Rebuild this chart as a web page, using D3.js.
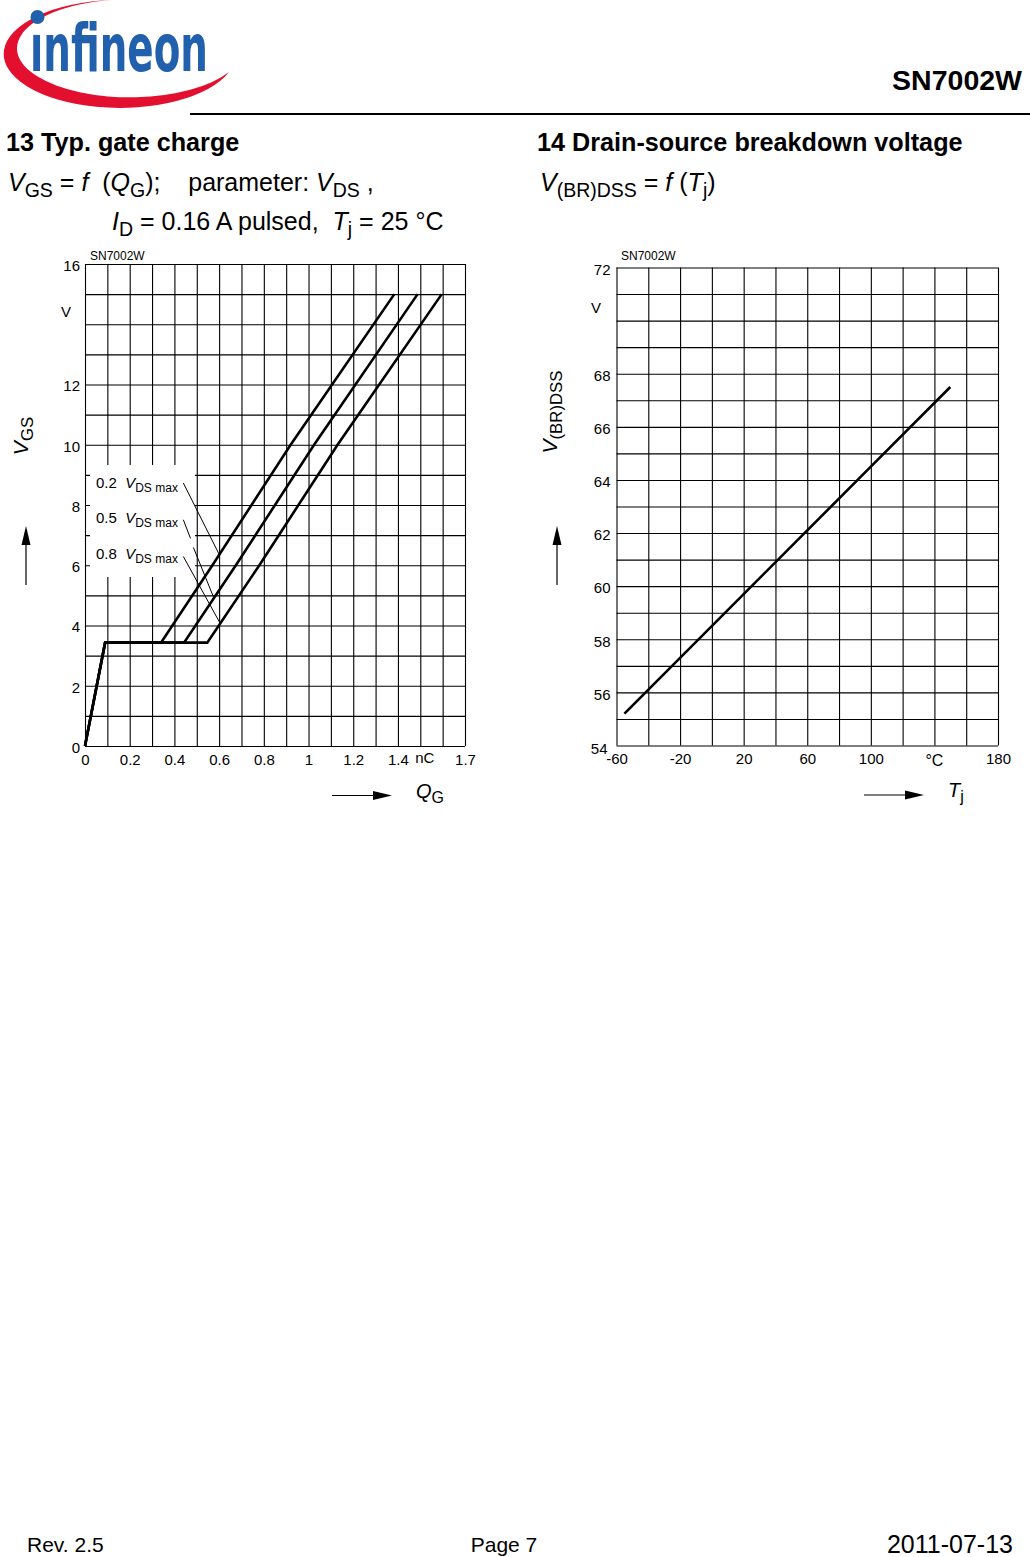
<!DOCTYPE html>
<html><head><meta charset="utf-8">
<script src="https://cdn.jsdelivr.net/npm/d3@7"></script>
<style>
body{margin:0;background:#fff}
svg text{font-family:"Liberation Sans",Arial,Helvetica,sans-serif;fill:#000;white-space:pre}
</style></head>
<body><svg id="page" width="1030" height="1557"></svg>
<script>
// ---------------- DATA ----------------
// Chart 13: gate charge, VGS = f(QG)
const gcSeriesNames = ["0.2", "0.5", "0.8"];
const gcCurve02 = [[0,0],[0.09,3.43],[0.34,3.43],[0.57,6],[0.92,10],[1.384,15]];
const gcCurve05 = [[0,0],[0.09,3.43],[0.443,3.43],[0.675,6],[1.025,10],[1.488,15]];
const gcCurve08 = [[0,0],[0.09,3.43],[0.547,3.43],[0.78,6],[1.13,10],[1.596,15]];
const gcXTickValues = [0,0.2,0.4,0.6,0.8,1,1.2,1.4,1.7];
const gcXTickLabels = ["0","0.2","0.4","0.6","0.8","1","1.2","1.4","1.7"];
const gcYTickValues = [0,2,4,6,8,10,12,16];
// leader lines: [from, to] in data units (QG, VGS)
const gcLeader02 = [[[0.44,8.73],[0.601,6.35]]];
const gcLeader05 = [[[0.44,7.51],[0.472,6.89]],[[0.485,6.59],[0.574,4.96]]];
const gcLeader08 = [[[0.44,6.29],[0.604,4.08]]];

// Chart 14: breakdown voltage V(BR)DSS = f(Tj)
const bvTemps = [-55,-20,20,60,100,150];
const bvVolts = [55.2,57.3,59.7,62.1,64.5,67.5];
const bvXTickValues = [-60,-20,20,60,100,180];
const bvYTickValues = [54,56,58,60,62,64,66,68,72];

// ---------------- HELPERS ----------------
const svg = d3.select("#page");
function rich(sel, x, y, parts, size, opts) {
  opts = opts || {};
  const t = sel.append("text").attr("x", x).attr("y", y).attr("font-size", size)
    .attr("text-anchor", opts.anchor || "start");
  if (opts.weight) t.attr("font-weight", opts.weight);
  if (opts.transform) t.attr("transform", opts.transform);
  let cur = 0;
  parts.forEach(p => {
    const s = t.append("tspan").text(p.t);
    const shift = p.sub ? size * (p.shift || 0.25) : 0;
    s.attr("dy", shift - cur); cur = shift;
    if (p.sub) s.attr("font-size", size * (p.scale || 0.78));
    if (p.i) s.attr("font-style", "italic");
  });
  return t;
}
function arrow(sel, x1, y1, x2, y2) {
  const dx = x2 - x1, dy = y2 - y1, L = Math.hypot(dx, dy), ux = dx / L, uy = dy / L;
  const hl = 19, hw = 4.5;
  const bx = x2 - ux * hl, by = y2 - uy * hl;
  sel.append("line").attr("x1", x1).attr("y1", y1).attr("x2", bx).attr("y2", by)
    .attr("stroke", "#000").attr("stroke-width", 1.2);
  sel.append("path").attr("d", `M${x2},${y2}L${bx - uy * hw},${by + ux * hw}L${bx + uy * hw},${by - ux * hw}Z`)
    .attr("fill", "#000");
}

// ---------------- HEADER ----------------
const logo = svg.append("g");
logo.append("path")
  .attr("d", "M229,72 A116,54 0 1 1 112,0 A113,49 0 1 0 229,72 Z")
  .attr("fill", "#e2102e");
logo.append("text").attr("x", 30).attr("y", 71).attr("font-size", 66)
  .attr("font-weight", "bold")
  .attr("textLength", 178).attr("lengthAdjust", "spacingAndGlyphs")
  .style("font-family", "'Liberation Sans Narrow','DejaVu Sans Condensed','Liberation Sans',sans-serif")
  .style("fill", "#2160ad")
  .text("\u0131nfineon");
logo.append("circle").attr("cx", 37.5).attr("cy", 17).attr("r", 7).attr("fill", "#2160ad");

svg.append("text").attr("x", 1022).attr("y", 90).attr("font-size", 28.5).attr("font-weight", "bold")
  .attr("text-anchor", "end").text("SN7002W");
svg.append("line").attr("x1", 190).attr("x2", 1030).attr("y1", 114).attr("y2", 114)
  .attr("stroke", "#000").attr("stroke-width", 2);

// Titles
svg.append("text").attr("x", 6).attr("y", 151).attr("font-size", 25.2).attr("font-weight", "bold")
  .text("13 Typ. gate charge");
svg.append("text").attr("x", 537).attr("y", 151).attr("font-size", 25.2).attr("font-weight", "bold")
  .text("14 Drain-source breakdown voltage");
rich(svg, 8, 191, [{t:"V",i:true},{t:"GS",sub:true},{t:" = "},{t:"f",i:true},{t:"  ("},{t:"Q",i:true},{t:"G",sub:true},{t:");    parameter: "},{t:"V",i:true},{t:"DS",sub:true},{t:" ,"}], 25);
rich(svg, 112, 230, [{t:"I",i:true},{t:"D",sub:true},{t:" = 0.16 A pulsed,  "},{t:"T",i:true},{t:"j",sub:true},{t:" = 25 °C"}], 25);
rich(svg, 540, 191, [{t:"V",i:true},{t:"(BR)DSS",sub:true},{t:" = "},{t:"f",i:true},{t:" ("},{t:"T",i:true},{t:"j",sub:true},{t:")"}], 25);

// ---------------- CHART 13 ----------------
const c1 = svg.append("g");
const x1 = d3.scaleLinear().domain([0, 1.7]).range([85, 465]);
const y1 = d3.scaleLinear().domain([0, 16]).range([746, 264]);

c1.append("g").attr("transform", `translate(0,${y1(0)})`)
  .call(d3.axisBottom(x1).tickValues(d3.range(0, 18).map(d => d / 10)).tickSize(-(y1(0) - y1(16))).tickFormat(""))
  .call(g => g.select(".domain").remove())
  .call(g => g.selectAll("line").attr("stroke", "#000").attr("stroke-width", 1.1));
c1.append("g").attr("transform", `translate(${x1(0)},0)`)
  .call(d3.axisLeft(y1).tickValues(d3.range(0, 17)).tickSize(-(x1(1.7) - x1(0))).tickFormat(""))
  .call(g => g.select(".domain").remove())
  .call(g => g.selectAll("line").attr("stroke", "#000").attr("stroke-width", 1.1));

c1.append("g").attr("transform", `translate(0,${y1(0)})`)
  .call(d3.axisBottom(x1).tickValues(gcXTickValues).tickSize(0).tickPadding(8)
    .tickFormat((d, i) => gcXTickLabels[i]))
  .call(g => g.select(".domain").remove())
  .call(g => g.selectAll("text").attr("font-size", 15).attr("font-family", null));
c1.append("g").attr("transform", `translate(${x1(0)},0)`)
  .call(d3.axisLeft(y1).tickValues(gcYTickValues).tickSize(0).tickPadding(5))
  .call(g => g.select(".domain").remove())
  .call(g => g.selectAll("text").attr("font-size", 15).attr("font-family", null).attr("dy", "0.42em"));
c1.append("text").attr("x", x1(1.52)).attr("y", 763).attr("font-size", 15).attr("text-anchor", "middle").text("nC");
c1.append("text").attr("x", 66).attr("y", y1(14.4) + 5).attr("font-size", 15).attr("text-anchor", "middle").text("V");
c1.append("text").attr("x", 90).attr("y", 260).attr("font-size", 12).text("SN7002W");

// legend box (white, covers grid)
c1.append("rect").attr("x", 90).attr("y", 465).attr("width", 105).attr("height", 112).attr("fill", "#fff");

const line1 = d3.line().x(d => x1(d[0])).y(d => y1(d[1]));
[gcCurve02, gcCurve05, gcCurve08].forEach(c => {
  c1.append("path").attr("d", line1(c)).attr("fill", "none").attr("stroke", "#000")
    .attr("stroke-width", 2.6).attr("stroke-linejoin", "miter");
});
[gcLeader02, gcLeader05, gcLeader08].forEach(segs => segs.forEach(s => {
  c1.append("line").attr("x1", x1(s[0][0])).attr("y1", y1(s[0][1]))
    .attr("x2", x1(s[1][0])).attr("y2", y1(s[1][1])).attr("stroke", "#000").attr("stroke-width", 1);
}));
const legY = [488, 523, 559];
gcSeriesNames.forEach((n, i) => {
  rich(c1, 96, legY[i], [{t: n + "  "}, {t:"V",i:true}, {t:"DS max",sub:true,scale:0.8}], 15);
});

rich(c1, 0, 0, [{t:"V",i:true},{t:"GS",sub:true,scale:0.8}], 21, {anchor:"middle", transform:"translate(28,436) rotate(-90)"});
arrow(c1, 26, 585, 26, 526);
arrow(c1, 332, 795.5, 392, 795.5);
rich(c1, 416, 798, [{t:"Q",i:true},{t:"G",sub:true,scale:0.8}], 20);

// ---------------- CHART 14 ----------------
const c2 = svg.append("g");
const x2 = d3.scaleLinear().domain([-60, 180]).range([616.5, 998]);
const y2 = d3.scaleLinear().domain([54, 72]).range([745.5, 267.5]);

c2.append("g").attr("transform", `translate(0,${y2(54)})`)
  .call(d3.axisBottom(x2).tickValues(d3.range(-60, 181, 20)).tickSize(-(y2(54) - y2(72))).tickFormat(""))
  .call(g => g.select(".domain").remove())
  .call(g => g.selectAll("line").attr("stroke", "#000").attr("stroke-width", 1.1));
c2.append("g").attr("transform", `translate(${x2(-60)},0)`)
  .call(d3.axisLeft(y2).tickValues(d3.range(54, 73)).tickSize(-(x2(180) - x2(-60))).tickFormat(""))
  .call(g => g.select(".domain").remove())
  .call(g => g.selectAll("line").attr("stroke", "#000").attr("stroke-width", 1.1));

c2.append("g").attr("transform", `translate(0,${y2(54)})`)
  .call(d3.axisBottom(x2).tickValues(bvXTickValues).tickSize(0).tickPadding(8).tickFormat(d => String(d)))
  .call(g => g.select(".domain").remove())
  .call(g => g.selectAll("text").attr("font-size", 15).attr("font-family", null));
c2.append("g").attr("transform", `translate(${x2(-60)},0)`)
  .call(d3.axisLeft(y2).tickValues(bvYTickValues).tickSize(0).tickPadding(6).tickFormat(d => String(d)))
  .call(g => g.select(".domain").remove())
  .call(g => g.selectAll("text").attr("font-size", 15).attr("font-family", null).attr("dy", "0.45em"))
  .call(g => g.selectAll(".tick").filter(d => d === 54).select("text").attr("dy", "0.5em").attr("dx", "-0.2em"));
c2.append("text").attr("x", x2(140)).attr("y", 766).attr("font-size", 16).attr("text-anchor", "middle").text("°C");
c2.append("text").attr("x", 596).attr("y", y2(70.46) + 5).attr("font-size", 15).attr("text-anchor", "middle").text("V");
c2.append("text").attr("x", 621).attr("y", 260).attr("font-size", 12).text("SN7002W");

const line2 = d3.line().x((d, i) => x2(bvTemps[i])).y(d => y2(d));
c2.append("path").attr("d", line2(bvVolts)).attr("fill", "none").attr("stroke", "#000").attr("stroke-width", 2.6);

rich(c2, 0, 0, [{t:"V",i:true},{t:"(BR)DSS",sub:true,scale:0.8}], 21, {anchor:"middle", transform:"translate(557,412) rotate(-90)"});
arrow(c2, 557, 585, 557, 526);
arrow(c2, 864, 795, 924, 795);
rich(c2, 948, 797, [{t:"T",i:true},{t:"j",sub:true,scale:0.8}], 20);

// ---------------- FOOTER ----------------
svg.append("text").attr("x", 27).attr("y", 1552).attr("font-size", 21).text("Rev. 2.5");
svg.append("text").attr("x", 504).attr("y", 1552).attr("font-size", 21).attr("text-anchor", "middle").text("Page 7");
svg.append("text").attr("x", 1013).attr("y", 1553).attr("font-size", 25).attr("text-anchor", "end").text("2011-07-13");
</script>
</body></html>
